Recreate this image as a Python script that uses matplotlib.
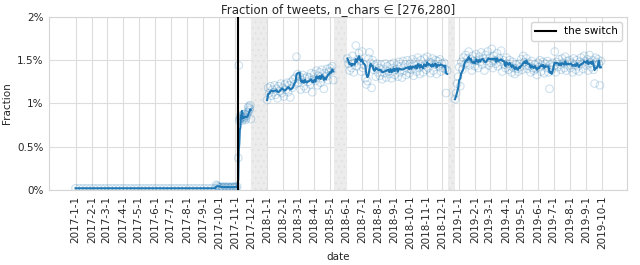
import pandas as pd
import numpy as np
import matplotlib
matplotlib.use("Agg")
import matplotlib.pyplot as plt
from matplotlib.ticker import FuncFormatter

# valeurs journalières, en unités de 0.01 % (145 -> 1.45 %)
# avant le test : un point par semaine
pre_start, pre_step = "2017-01-01", 7
pre_vals = [2, 2, 2, 2, 2, 2, 2, 2, 2, 2, 2, 2, 2, 2, 2, 2, 2, 2, 2, 2,
            2, 2, 2, 2, 2, 2, 2, 2, 2, 2, 2, 2, 2, 2, 2, 2, 2, 2, 2]

# période de test (26 sept. 2017), un point tous les 2 jours
test_start, test_step = "2017-09-26", 2
test_vals = [6, 5, 4, 3, 3, 4, 3, 3, 4, 3, 3, 4, 3, 3, 3, 4, 3, 3, 4, 3, 4]

# après le passage à 280 caractères
switch_start, switch_step = "2017-11-07", 1
switch_vals = [37, 144, 80, 82, 86, 83, 85, 80, 84, 87, 82, 85, 88, 84, 81, 83,
               86, 88, 90, 95, 97, 92, 94, 98, 82]

y18a_start, y18a_step = "2018-01-01", 2
y18a_vals = [104, 118, 112, 120, 109, 116, 113, 121, 110, 117,
             106, 120, 114, 123, 112, 118, 108, 122, 116, 124,
             113, 121, 107, 125, 118, 128, 122, 130, 154, 134,
             124, 131, 116, 127, 133, 120, 129, 117, 131, 125,
             130, 122, 135, 113, 128, 134, 126, 138, 121, 132,
             136, 124, 139, 129, 117, 135, 131, 140, 127, 137,
             141, 137, 143, 127]

y18b_start, y18b_step = "2018-06-03", 2
y18b_vals = [152, 146, 138, 149, 141, 155, 136, 147, 167, 143,
             151, 158, 149, 137, 160, 141, 145, 129, 122, 126,
             152, 159, 147, 118, 150, 139, 144, 131, 146, 136,
             141, 132, 145, 128, 140, 135, 146, 130, 143, 137,
             134, 145, 129, 141, 147, 133, 139, 144, 131, 148,
             136, 143, 130, 149, 138, 145, 133, 150, 140, 135,
             146, 139, 151, 132, 144, 148, 137, 153, 141, 134,
             150, 143, 136, 152, 145, 139, 154, 141, 148, 135,
             147, 152, 138, 145, 150, 134, 149, 143, 151, 137,
             146, 141, 147, 140, 112, 138]

y19_start, y19_step = "2018-12-25", 2
y19_vals = [105, 112, 123, 131, 142, 120, 148, 139, 153, 145,
            156, 147, 152, 160, 144, 151, 138, 155, 149, 143,
            157, 150, 141, 154, 148, 159, 145, 152, 138, 156,
            149, 160, 144, 153, 147, 163, 141, 155, 150, 146,
            158, 143, 152, 148, 161, 137, 150, 145, 141, 153,
            146, 139, 150, 143, 136, 148, 141, 134, 145, 140,
            137, 146, 142, 151, 139, 155, 148, 144, 152, 140,
            147, 143, 136, 149, 141, 138, 145, 140, 133, 147,
            142, 150, 137, 144, 148, 135, 146, 141, 149, 136,
            117, 145, 139, 147, 143, 160, 136, 148, 142, 151,
            145, 139, 152, 147, 141, 154, 138, 149, 144, 150,
            141, 147, 136, 152, 145, 139, 150, 143, 137, 148,
            153, 146, 140, 155, 149, 144, 151, 138, 156, 147,
            142, 150, 139, 123, 153, 148, 151, 146, 121, 149]

switch_date = "2017-11-07"
missing = [("2017-12-01", "2018-01-01"), ("2018-05-08", "2018-06-03"), ("2018-12-12", "2018-12-25")]

tick_start, tick_end = "2017-01-01", "2019-10-01"


def to_series(start, step, vals):
    idx = pd.date_range(start, periods=len(vals), freq=f"{step}D")
    return pd.Series(np.array(vals) / 10000.0, index=idx)


# une série par période continue (pas de ligne à travers les trous)
runs = [
    pd.concat([to_series(pre_start, pre_step, pre_vals),
               to_series(test_start, test_step, test_vals),
               to_series(switch_start, switch_step, switch_vals)]),
    to_series(y18a_start, y18a_step, y18a_vals),
    to_series(y18b_start, y18b_step, y18b_vals),
    to_series(y19_start, y19_step, y19_vals),
]

plt.rcParams["font.family"] = "DejaVu Sans"
plt.rcParams["hatch.linewidth"] = 0.6
fig, ax = plt.subplots(figsize=(6.4, 2.65), dpi=100)
fig.subplots_adjust(left=0.077, right=0.98, top=0.936, bottom=0.283)

blue = "#1f77b4"
for s in runs:
    ax.scatter(s.index, s.values, s=30, facecolors="none", edgecolors=blue,
               linewidths=0.8, alpha=0.22, zorder=3)
    smooth = s.rolling("7D").mean()
    ax.plot(smooth.index, smooth.values, color=blue, lw=1.5, zorder=4)

for a, b in missing:
    ax.axvspan(pd.Timestamp(a), pd.Timestamp(b), facecolor="#ececec",
               edgecolor="#e0e0e0", hatch="...", linewidth=0, zorder=1)

ax.axvline(pd.Timestamp(switch_date), color="black", lw=1.5, zorder=5, label="the switch")

ax.set_ylim(0, 0.02)
ax.set_yticks([0, 0.005, 0.01, 0.015, 0.02])
ax.yaxis.set_major_formatter(FuncFormatter(lambda v, _: f"{v * 100:g}%"))

months = pd.date_range(tick_start, tick_end, freq="MS")
ax.set_xticks(months)
ax.set_xticklabels([f"{d.year}-{d.month}-{d.day}" for d in months], rotation=90)

ax.grid(True, color="#dddddd", lw=0.8)
ax.set_axisbelow(True)
for sp in ax.spines.values():
    sp.set_color("#d5d5d5")
ax.tick_params(length=0, colors="#262626", pad=4)
ax.tick_params(axis="x", labelsize=7.5)
ax.tick_params(axis="y", labelsize=7.5)

ax.set_title("Fraction of tweets, n_chars ∈ [276,280]", fontsize=8.5, color="#262626", pad=3)
ax.set_xlabel("date", fontsize=7.5, color="#262626", labelpad=2)
ax.set_ylabel("Fraction", fontsize=7.5, color="#262626")
ax.legend(loc="upper right", fontsize=7.5, frameon=True, edgecolor="#d5d5d5", framealpha=1)

plt.savefig("out.png", dpi=100)
